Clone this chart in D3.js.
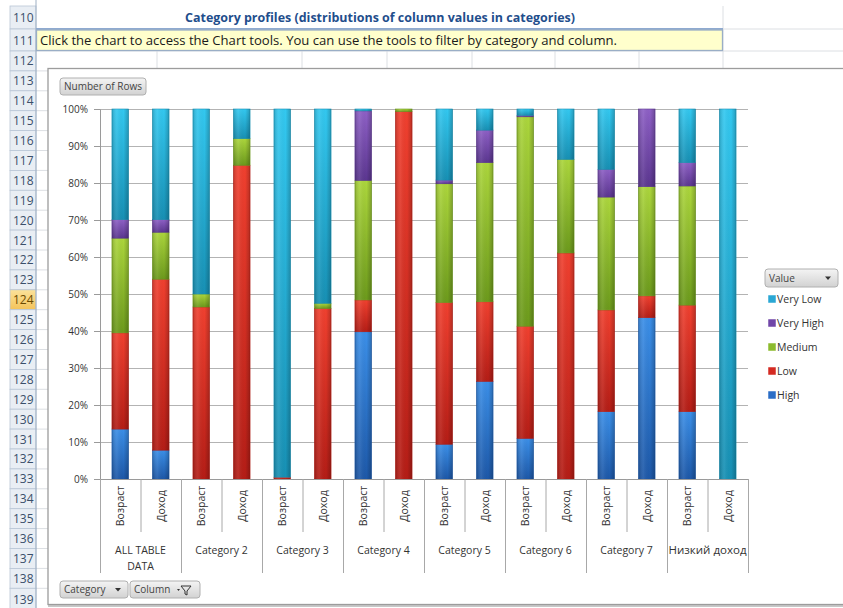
<!DOCTYPE html>
<html>
<head>
<meta charset="utf-8">
<script src="https://cdn.jsdelivr.net/npm/d3@7"></script>
<style>
  html, body { margin: 0; padding: 0; background: #ffffff; }
  svg { display: block; }
  text { font-family: "Open Sans", "Noto Sans", "DejaVu Sans", sans-serif; }
</style>
</head>
<body>
<svg id="chart" width="843" height="608"></svg>
<script>
// ---------------- data ----------------
const categories = ["ALL TABLE DATA", "Category 2", "Category 3", "Category 4",
                    "Category 5", "Category 6", "Category 7", "Низкий доход"];
const columns = ["Возраст", "Доход"];
const seriesNames = ["High", "Low", "Medium", "Very High", "Very Low"]; // stack order, bottom to top
const legendOrder = ["Very Low", "Very High", "Medium", "Low", "High"];
const highValues     = [13.5, 7.8, 0, 0, 0, 0, 39.8, 0, 9.4, 26.4, 11.0, 0, 18.2, 43.6, 18.2, 0];
const lowValues      = [26.0, 46.2, 46.5, 84.8, 0.5, 46.1, 8.6, 99.3, 38.3, 21.5, 30.3, 61.1, 27.5, 5.9, 28.8, 0];
const mediumValues   = [25.6, 12.7, 3.5, 7.2, 0, 1.4, 32.3, 0.7, 32.1, 37.6, 56.6, 25.3, 30.5, 29.5, 32.2, 0];
const veryHighValues = [5.0, 3.4, 0, 0, 0, 0, 18.8, 0, 1.0, 8.8, 0.4, 0, 7.5, 21.0, 6.3, 0];
const veryLowValues  = [29.9, 29.9, 50.0, 8.0, 99.5, 52.5, 0.5, 0, 19.2, 5.7, 1.7, 13.6, 16.3, 0, 14.5, 100];
const yTicks = [0, 10, 20, 30, 40, 50, 60, 70, 80, 90, 100];
const rowNumbers = d3.range(110, 140);
const titleText = "Category profiles (distributions of column values in categories)";
const noteText = "Click the chart to access the Chart tools. You can use the tools to filter by category and column.";

// ---------------- build table ----------------
const seriesValues = {
  "High": highValues, "Low": lowValues, "Medium": mediumValues,
  "Very High": veryHighValues, "Very Low": veryLowValues
};
const table = [];
categories.forEach((c, ci) => columns.forEach((col, k) => {
  const i = ci * columns.length + k;
  const row = { key: c + "|" + col, category: c, column: col };
  seriesNames.forEach(s => row[s] = seriesValues[s][i]);
  table.push(row);
}));

const colors = {
  "Very Low":  ["#33c8f0", "#1790b4"],
  "Very High": ["#8e60c6", "#5b3690"],
  "Medium":    ["#acd63c", "#6c9a1c"],
  "Low":       ["#f0402f", "#b41d16"],
  "High":      ["#3b8fe8", "#1d58a8"]
};
const legendColors = {
  "Very Low": "#2aa7d4", "Very High": "#7046a8", "Medium": "#8cbb2e", "Low": "#d42a22", "High": "#2a6dc6"
};

const svg = d3.select("#chart");
const W = 843, H = 608;
const defs = svg.append("defs");
seriesNames.forEach((s, i) => {
  const g = defs.append("linearGradient").attr("id", "g" + i)
    .attr("x1", 0).attr("y1", 0).attr("x2", 0).attr("y2", 1);
  g.append("stop").attr("offset", "0%").attr("stop-color", colors[s][0]);
  g.append("stop").attr("offset", "100%").attr("stop-color", colors[s][1]);
});
const hg = defs.append("linearGradient").attr("id", "shade")
  .attr("x1", 0).attr("y1", 0).attr("x2", 1).attr("y2", 0);
hg.append("stop").attr("offset", "0%").attr("stop-color", "#000").attr("stop-opacity", 0.18);
hg.append("stop").attr("offset", "30%").attr("stop-color", "#fff").attr("stop-opacity", 0.08);
hg.append("stop").attr("offset", "70%").attr("stop-color", "#000").attr("stop-opacity", 0.0);
hg.append("stop").attr("offset", "100%").attr("stop-color", "#000").attr("stop-opacity", 0.22);
const btn = defs.append("linearGradient").attr("id", "btn")
  .attr("x1", 0).attr("y1", 0).attr("x2", 0).attr("y2", 1);
btn.append("stop").attr("offset", "0%").attr("stop-color", "#f4f4f4");
btn.append("stop").attr("offset", "100%").attr("stop-color", "#d2d2d2");
const sel = defs.append("linearGradient").attr("id", "selrow")
  .attr("x1", 0).attr("y1", 0).attr("x2", 0).attr("y2", 1);
sel.append("stop").attr("offset", "0%").attr("stop-color", "#fbe29a");
sel.append("stop").attr("offset", "100%").attr("stop-color", "#f3c35a");

// ---------------- spreadsheet background ----------------
function rowTop(r) {
  if (r === 110) return 6;
  if (r === 111) return 29;
  return 51 + (r - 112) * 19.9;
}
function rowBottom(r) { return r === 139 ? 611 : rowTop(r + 1); }

svg.append("rect").attr("x", 0).attr("y", 0).attr("width", W).attr("height", H).attr("fill", "#fff");

// sheet gridlines
const grid = svg.append("g");
rowNumbers.forEach(r => {
  grid.append("line").attr("x1", 36).attr("x2", W)
    .attr("y1", rowBottom(r)).attr("y2", rowBottom(r))
    .attr("stroke", "#dcdfe3").attr("stroke-width", 1);
});
[157, 302, 387, 472, 555, 639, 723].forEach(x => {
  grid.append("line").attr("x1", x).attr("x2", x).attr("y1", 51).attr("y2", 70)
    .attr("stroke", "#dcdfe3");
});
grid.append("line").attr("x1", 723).attr("x2", 723).attr("y1", 6).attr("y2", 51).attr("stroke", "#dcdfe3");

// row headers
const hdr = svg.append("g");
rowNumbers.forEach(r => {
  const t = rowTop(r), b = rowBottom(r);
  hdr.append("rect").attr("x", 10).attr("y", t).attr("width", 26).attr("height", b - t)
    .attr("fill", r === 124 ? "url(#selrow)" : "#e9eef4")
    .attr("stroke", "#b9c6d6").attr("stroke-width", 0.8);
  hdr.append("text").attr("x", 13).attr("y", (t + b) / 2 + 4.5)
    .attr("font-size", 12).attr("fill", r === 124 ? "#6b4a00" : "#3a4f6a")
    .text(r);
});
hdr.append("line").attr("x1", 36).attr("x2", 36).attr("y1", 0).attr("y2", H).attr("stroke", "#9fb0c4");

// title row
svg.append("text").attr("x", 380).attr("y", 22).attr("text-anchor", "middle")
  .attr("font-size", 12.5).attr("font-weight", "bold").attr("fill", "#1f4e8c")
  .attr("textLength", 390).attr("lengthAdjust", "spacingAndGlyphs")
  .text(titleText);
svg.append("line").attr("x1", 36).attr("x2", 723).attr("y1", 29).attr("y2", 29)
  .attr("stroke", "#8faad0").attr("stroke-width", 2);
svg.append("rect").attr("x", 36.5).attr("y", 30).attr("width", 686).attr("height", 20.5)
  .attr("fill", "#ffffcc").attr("stroke", "#9aaec6").attr("stroke-width", 1.3);
svg.append("text").attr("x", 40).attr("y", 45)
  .attr("font-size", 12.5).attr("fill", "#1a1a1a")
  .attr("textLength", 577).attr("lengthAdjust", "spacingAndGlyphs")
  .text(noteText);

// ---------------- chart frame ----------------
svg.append("rect").attr("x", 49).attr("y", 70).attr("width", 810).attr("height", 536)
  .attr("fill", "none").attr("stroke", "#c8c8c8").attr("stroke-width", 2);
svg.append("rect").attr("x", 48).attr("y", 68.5).attr("width", 810).attr("height", 536)
  .attr("fill", "#fff").attr("stroke", "#9c9c9c").attr("stroke-width", 1.3);

function button(x, y, w, h, label, arrow) {
  const g = svg.append("g");
  g.append("rect").attr("x", x).attr("y", y).attr("width", w).attr("height", h)
    .attr("rx", 3).attr("fill", "url(#btn)").attr("stroke", "#b0b0b0");
  g.append("text").attr("x", x + 4).attr("y", y + h / 2 + 3.5)
    .attr("font-size", 10).attr("fill", "#444").text(label);
  if (arrow) {
    const ax = x + w - 10, ay = y + h / 2 - 1.5;
    g.append("path").attr("d", `M${ax - 3},${ay} L${ax + 3},${ay} L${ax},${ay + 3.5} Z`).attr("fill", "#333");
  }
  return g;
}
button(60, 78, 86, 17, "Number of Rows", false);

// ---------------- scales ----------------
const x0 = 100, x1 = 748, yTop = 109, yBot = 479;
const x = d3.scaleBand().domain(table.map(d => d.key)).range([x0, x1])
  .paddingInner(0.59).paddingOuter(0.295);
const y = d3.scaleLinear().domain([0, 100]).range([yBot, yTop]);

// gridlines
svg.append("g").selectAll("line").data(yTicks).join("line")
  .attr("x1", x0 - 6).attr("x2", x1)
  .attr("y1", d => y(d) + 0.5).attr("y2", d => y(d) + 0.5)
  .attr("stroke", "#b3b3b3").attr("stroke-width", 1);

// y axis
const yAxis = svg.append("g").attr("transform", `translate(${x0},0)`)
  .call(d3.axisLeft(y).tickValues(yTicks).tickFormat(d => d + "%").tickSize(6).tickPadding(6));
yAxis.select(".domain").attr("stroke", "#9a9a9a");
yAxis.selectAll(".tick line").attr("stroke", "#9a9a9a");
yAxis.selectAll("text").attr("font-size", 10).attr("fill", "#333")
  .attr("font-family", "'Open Sans', sans-serif");

// stacked bars
const stack = d3.stack().keys(seriesNames);
const stacked = stack(table);
const barsG = svg.append("g");
stacked.forEach((layer, si) => {
  const s = seriesNames[si];
  const g = barsG.append("g");
  g.selectAll("rect.seg").data(layer.filter(d => d[1] - d[0] > 0)).join("rect")
    .attr("class", "seg")
    .attr("x", d => x(d.data.key))
    .attr("width", x.bandwidth())
    .attr("y", d => y(d[1]))
    .attr("height", d => y(d[0]) - y(d[1]))
    .attr("fill", `url(#g${si})`)
    .attr("stroke", colors[s][1]).attr("stroke-width", 0.6);
  g.selectAll("rect.sh").data(layer.filter(d => d[1] - d[0] > 0)).join("rect")
    .attr("class", "sh")
    .attr("x", d => x(d.data.key))
    .attr("width", x.bandwidth())
    .attr("y", d => y(d[1]))
    .attr("height", d => y(d[0]) - y(d[1]))
    .attr("fill", "url(#shade)");
});

// x axis line
svg.append("line").attr("x1", x0).attr("x2", x1).attr("y1", yBot + 0.5).attr("y2", yBot + 0.5)
  .attr("stroke", "#9a9a9a");

// column label separators and labels
const step = x.step();
const xa = svg.append("g");
table.forEach((d, i) => {
  const left = x(d.key) - (step - x.bandwidth()) / 2;
  const isCatStart = i % columns.length === 0;
  xa.append("line").attr("x1", left + 0.5).attr("x2", left + 0.5)
    .attr("y1", yBot).attr("y2", isCatStart ? 573 : 532)
    .attr("stroke", "#a8a8a8");
  const cx = x(d.key) + x.bandwidth() / 2;
  xa.append("text").attr("transform", `translate(${cx + 4},506) rotate(-90)`)
    .attr("text-anchor", "middle").attr("font-size", 10.5).attr("fill", "#333")
    .text(d.column);
});
xa.append("line").attr("x1", x1 + 0.5).attr("x2", x1 + 0.5).attr("y1", yBot).attr("y2", 573)
  .attr("stroke", "#a8a8a8");
categories.forEach((c, ci) => {
  const first = table[ci * columns.length], last = table[ci * columns.length + columns.length - 1];
  const cx = (x(first.key) + x(last.key) + x.bandwidth()) / 2;
  const lines = c === "ALL TABLE DATA" ? ["ALL TABLE", "DATA"] : [c];
  lines.forEach((t, li) => {
    const txt = xa.append("text").attr("x", cx).attr("y", 554 + li * 16)
      .attr("text-anchor", "middle").attr("font-size", 10.5).attr("fill", "#333").text(t);
    if (c === "Низкий доход") txt.attr("textLength", 78).attr("lengthAdjust", "spacingAndGlyphs");
  });
});

button(60, 581, 68, 17, "Category", true);
const colBtn = button(130, 581, 70, 17, "Column", false);
// filter icon
colBtn.append("path").attr("d", "M181,586 L191,586 L187,591 L187,595 L185,594 L185,591 Z")
  .attr("fill", "none").attr("stroke", "#333").attr("stroke-width", 1);
colBtn.append("path").attr("d", "M177,589 L180,589 L178.5,591 Z").attr("fill", "#333");

// ---------------- legend ----------------
button(765, 269, 73, 18, "Value", true);
const lg = svg.append("g");
legendOrder.forEach((s, i) => {
  const ly = 299 + i * 24;
  lg.append("rect").attr("x", 768).attr("y", ly - 4).attr("width", 8).attr("height", 8)
    .attr("fill", legendColors[s]).attr("stroke", "#ffffff").attr("stroke-width", 0.5);
  lg.append("text").attr("x", 777).attr("y", ly + 4).attr("font-size", 10.5).attr("fill", "#333").text(s);
});
</script>
</body>
</html>
